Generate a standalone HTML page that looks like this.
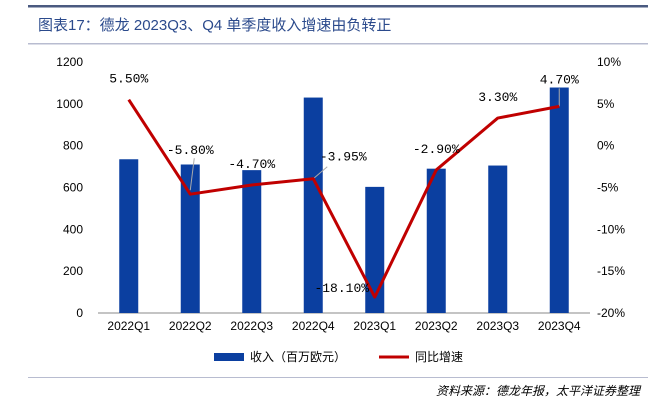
<!DOCTYPE html>
<html><head><meta charset="utf-8"><style>
body{margin:0;width:649px;height:412px;background:#fff;overflow:hidden;font-family:"Liberation Sans","Noto Sans CJK SC",sans-serif}
</style></head><body>
<svg width="649" height="412" xmlns="http://www.w3.org/2000/svg" font-family="Liberation Sans, Noto Sans CJK SC, sans-serif">
<rect x="28" y="5" width="620" height="2.5" fill="#4a5a80"/>
<text x="38" y="30" font-size="15" fill="#2b4a8c">图表17：德龙 2023Q3、Q4 单季度收入增速由负转正</text>
<rect x="28" y="43" width="620" height="1.5" fill="#b8bcd0"/>
<g id="axes"></g>
<g id="bars"></g>
<g id="leaders"></g>
<g id="line"></g>
<g id="labels"></g>
<g>
<rect x="214" y="353" width="30" height="8" fill="#0b3fa0"/>
<text x="250" y="361" font-size="12" fill="#000">收入（百万欧元）</text>
<line x1="379" y1="357" x2="409" y2="357" stroke="#c00000" stroke-width="3"/>
<text x="415" y="361" font-size="12" fill="#000">同比增速</text>
</g>
<rect x="28" y="377" width="620" height="1" fill="#b8bcd0"/>
<text x="640" y="395" font-size="12" fill="#000" font-style="italic" text-anchor="end">资料来源：德龙年报，太平洋证券整理</text>
</svg>
<script>
const categories=["2022Q1","2022Q2","2022Q3","2022Q4","2023Q1","2023Q2","2023Q3","2023Q4"];
const revenue=[735,710,683,1030,603,690,705,1078];
const growth=[5.5,-5.8,-4.7,-3.95,-18.1,-2.9,3.3,4.7];
const growthLabels=["5.50%","-5.80%","-4.70%","-3.95%","-18.10%","-2.90%","3.30%","4.70%"];
const leftTicks=[0,200,400,600,800,1000,1200];
const rightTicks=[10,5,0,-5,-10,-15,-20];
const NS="http://www.w3.org/2000/svg";
const X0=98,X1=590,Y0=313,Y1=62;
const yL=v=>Y0-(v/1200)*(Y0-Y1);
const yR=v=>Y0-((v+20)/30)*(Y0-Y1);
const bw=(X1-X0)/categories.length;
const xC=i=>X0+bw*(i+0.5);
function mk(t,a,p){const e=document.createElementNS(NS,t);for(const k in a)e.setAttribute(k,a[k]);p.appendChild(e);return e;}
const ax=document.getElementById('axes');
let e=mk('line',{x1:X0,y1:Y0,x2:X1,y2:Y0,stroke:'#888'},ax);


leftTicks.forEach(v=>{const t=mk('text',{x:83,y:yL(v)+4,'font-size':12,'text-anchor':'end',fill:'#000'},ax);t.textContent=v;

});
rightTicks.forEach(v=>{const t=mk('text',{x:597,y:yR(v)+4,'font-size':12,fill:'#000'},ax);t.textContent=v+'%';

});
categories.forEach((c,i)=>{const t=mk('text',{x:xC(i),y:330,'font-size':12,'text-anchor':'middle',fill:'#000'},ax);t.textContent=c;

});
const bars=document.getElementById('bars');
revenue.forEach((v,i)=>{const r=mk('rect',{x:xC(i)-9.5,y:yL(v),width:19,height:Y0-yL(v),fill:'#0b3fa0'},bars);

});
const pl=mk('polyline',{points:growth.map((g,i)=>xC(i)+','+yR(g)).join(' '),fill:'none',stroke:'#c00000','stroke-width':3,'stroke-linejoin':'round'},document.getElementById('line'));


const ld=document.getElementById('leaders');
const l1=mk('line',{x1:xC(1),y1:yR(growth[1])-4,x2:xC(1)+4,y2:yR(growth[1])-36,stroke:'#aaa','stroke-width':1},ld);


const l2=mk('line',{x1:xC(3),y1:yR(growth[3]),x2:xC(3)+14,y2:yR(growth[3])-12,stroke:'#aaa','stroke-width':1},ld);


const l3=mk('line',{x1:xC(7),y1:yR(growth[7]),x2:xC(7),y2:yR(growth[7])-18,stroke:'#aaa','stroke-width':1},ld);


const lb=document.getElementById('labels');
const off=[[0,-17],[0,-40],[0,-17],[30,-18],[-33,-5],[0,-17],[0,-17],[0,-23]];
growthLabels.forEach((s,i)=>{const x=xC(i)+off[i][0],y=yR(growth[i])+off[i][1];
const t=mk('text',{x:x,y:y,'font-size':13,'text-anchor':'middle',fill:'#000','font-family':'Liberation Mono, monospace'},lb);t.textContent=s;

});
</script>
</body></html>
